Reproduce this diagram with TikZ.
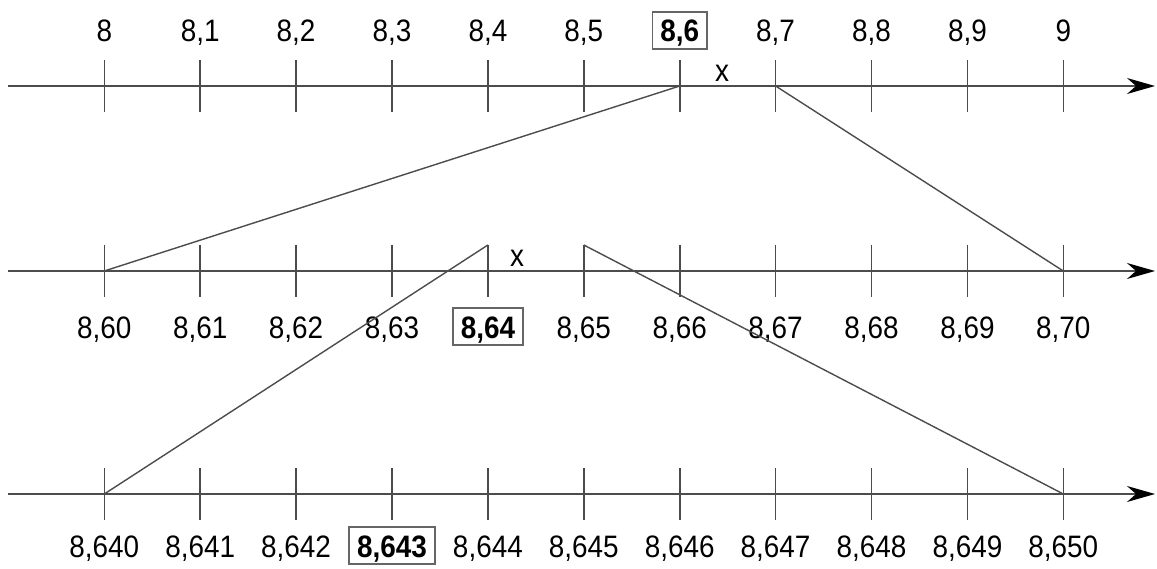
\documentclass[tikz,border=0pt]{standalone}
\usepackage{fontspec}
\setmainfont{Liberation Sans}[FakeStretch=0.9]
\usetikzlibrary{arrows.meta}
\begin{document}
\begin{tikzpicture}[x=1pt, y=-1pt,
    axis/.style={line width=1.8pt, black!70, -{Stealth[length=28pt, width=16pt, inset=9pt, black]}},
    tick/.style={line width=1.6pt, black!70},
    link/.style={line width=1.4pt, black!70},
    lab/.style={font=\fontsize{31}{36}\selectfont, anchor=base, inner sep=0pt},
    hl/.style={lab, font=\fontsize{31}{36}\selectfont\bfseries, draw=black!60, line width=1.5pt,
      inner xsep=8pt, inner ysep=5pt, text height=25pt, text depth=2pt},
    pick/.code 2 args={\ifnum#1=#2\relax\pgfkeysalso{hl}\else\pgfkeysalso{lab}\fi}
  ]
  \useasboundingbox (0,0) rectangle (1157,569);
  % number lines with ticks
  \foreach \r/\y in {t/86, m/271, b/494} {
    \coordinate (\r s) at (8,\y);
    \coordinate (\r e) at (1155,\y);
    \draw[axis] (\r s) -- (\r e);
    \foreach \i in {0,...,10} {
      \coordinate (\r\i) at (104.3+95.9*\i,\y);
      \coordinate (\r u\i) at (104.3+95.9*\i,\y-26);
      \coordinate (\r d\i) at (104.3+95.9*\i,\y+26);
      \draw[tick] (\r u\i) -- (\r d\i);
    }
  }
  % labels
  \foreach \i in {0,...,10} {
    \node[pick={\i}{6}] (tl\i) at (104.3+95.9*\i,42)
      {\ifnum\i=0 8\else\ifnum\i=10 9\else 8,\i\fi\fi};
    \node[pick={\i}{4}] (ml\i) at (104.3+95.9*\i,338)
      {\ifnum\i=10 8,70\else 8,6\i\fi};
    \node[pick={\i}{3}] (bl\i) at (104.3+95.9*\i,557)
      {\ifnum\i=10 8,650\else 8,64\i\fi};
  }
  \node[lab] (xt) at (722,82) {x};
  \node[lab] (xm) at (517,267) {x};
  % zoom lines
  \draw[link] (t6) -- (m0);
  \draw[link] (t7) -- (m10);
  \draw[link] (mu4) -- (b0);
  \draw[link] (mu5) -- (b10);
\end{tikzpicture}
\end{document}
